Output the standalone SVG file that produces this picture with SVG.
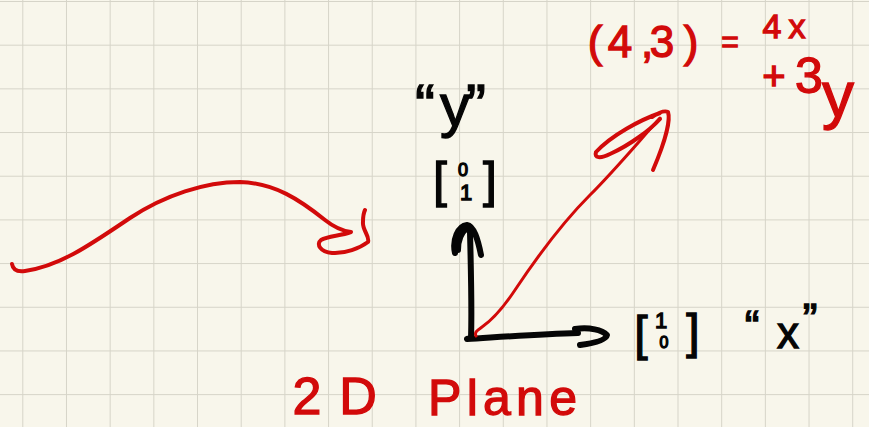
<svg xmlns="http://www.w3.org/2000/svg" width="869" height="427" viewBox="0 0 869 427">
<defs>
<pattern id="grid" x="22.3" y="1" width="43.68" height="43.68" patternUnits="userSpaceOnUse">
<path d="M 0 0 L 43.68 0 M 0 0 L 0 43.68" fill="none" stroke="#d6d4c8" stroke-width="2"/>
</pattern>
</defs>
<style>
.red{fill:none;stroke:#d20a0a;stroke-linecap:round;stroke-linejoin:round}
.blk{fill:none;stroke:#050505;stroke-linecap:round;stroke-linejoin:round}
.tr{fill:#d20a0a;stroke:#d20a0a;stroke-width:1.3;font-family:"Liberation Sans",Arial,sans-serif;text-anchor:middle}
.tb{fill:#050505;stroke:#050505;stroke-width:1.3;font-family:"Liberation Sans",Arial,sans-serif;text-anchor:middle}
</style>
<rect width="869" height="427" fill="#f8f6eb"/>
<rect width="869" height="427" fill="url(#grid)"/>
<g id="connectors">
<path id="curve-arrow" class="red" stroke-width="4" d="M 12 264 C 13 270 18 272 25 271 C 60 266 90 245 130 218 C 165 195 205 182 240 182 C 275 183 300 200 325 220 C 335 228 343 231 351 232 C 340 236 328 236 321 240 C 316 244 320 252 332 253 C 345 254 360 248 368 242 C 370 236 362 230 363 222 C 363 216 364 212 365 210"/>
<path id="y-axis" class="blk" stroke-width="6" d="M 470 232 C 471 270 472 310 471 338 L 467 339 C 500 337 540 334 578 333"/>
<path id="y-head" class="blk" stroke-width="6" d="M 455 253 C 452 240 458 226 467 225 C 474 226 478 240 481 255 M 458 250 C 458 240 462 232 467 228"/>
<path id="x-head" class="blk" stroke-width="6" d="M 575 329 C 590 327 602 330 607 335 C 606 340 595 343 580 345"/>
<path id="vector" class="red" stroke-width="3" d="M 476 336 C 474 332 478 330 482 327 C 495 318 505 305 515 290 C 535 260 560 225 590 195 C 615 170 640 140 660 118"/>
<path id="vector-head" class="red" stroke-width="4" d="M 660 113 C 640 120 612 135 596 152 C 594 158 600 159 610 154 C 630 145 650 130 660 119 M 652 117 C 658 113 664 110 668 112 C 670 118 668 135 653 170"/>
</g>
<g id="label-y">
<text class="tb" font-size="60" x="425 455 476" y="126">“y”</text>
</g>
<g id="vec-y">
<text class="tb" font-size="50" x="440" y="197">[</text>
<text class="tb" font-size="18" x="463" y="176">0</text>
<text class="tb" font-size="22" x="466" y="200">1</text>
<text class="tb" font-size="50" x="490" y="197">]</text>
</g>
<g id="vec-x">
<text class="tb" font-size="48" x="641" y="350">[</text>
<text class="tb" font-size="22" x="661" y="328">1</text>
<text class="tb" font-size="16" x="664" y="348">0</text>
<text class="tb" font-size="48" x="693" y="348">]</text>
</g>
<g id="label-x">
<text class="tb" font-size="44" x="752" y="342">“</text>
<text class="tb" font-size="44" x="788" y="348">x</text>
<text class="tb" font-size="44" x="810" y="335">”</text>
</g>
<g id="label-43">
<text class="tr" font-size="44" x="595 620 647 662 691" y="57">(4,3)</text>
<text class="tr" font-size="30" x="730" y="52">=</text>
<text class="tr" font-size="34" x="772 797" y="38">4x</text>
<text class="tr" font-size="40" x="774" y="90">+</text>
<text class="tr" font-size="50" x="809" y="93">3</text>
<text class="tr" font-size="64" x="838" y="117">y</text>
</g>
<g id="title">
<text class="tr" font-size="52" x="307 358" y="414">2D</text>
<text class="tr" font-size="50" x="428" y="415" style="text-anchor:start" textLength="149" lengthAdjust="spacing">Plane</text>
</g>
</svg>
